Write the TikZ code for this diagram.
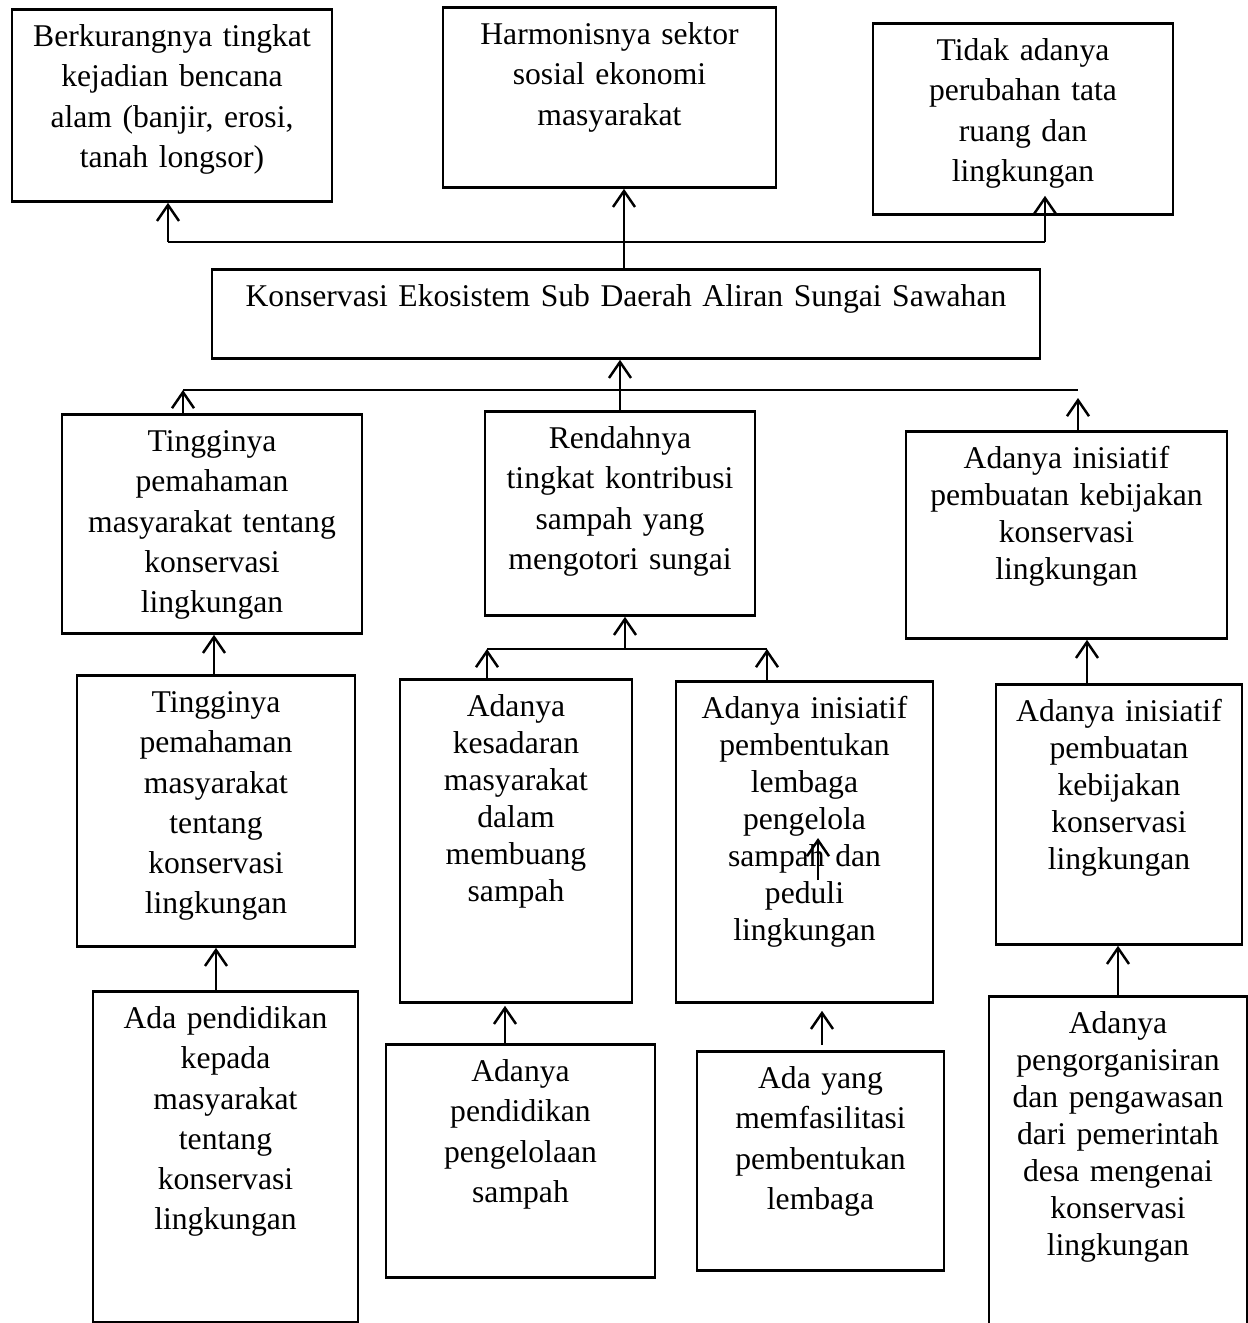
\documentclass[tikz,border=0pt]{standalone}
\usepackage{fontspec}
\setmainfont{Liberation Serif}
\usetikzlibrary{arrows.meta}

\begin{document}
\begin{tikzpicture}[
  kotak/.style = {draw, line width=1.6pt, anchor=north, align=center, inner xsep=0.1cm, inner ysep=0.25cm, text height=0.5cm, font=\fontsize{18pt}{22.8pt}\selectfont},
  rapat/.style = {font=\fontsize{18pt}{21pt}\selectfont},
  panah/.style = {-{Straight Barb[length=3.2mm,width=4.4mm]}, line width=1.4pt},
  garis/.style = {line width=0.8pt}
]
  \useasboundingbox (0,0) rectangle (24.96,-26.46);

  \node[kotak, text width=6.2cm, text depth=2.84cm] (dampak1) at (3.44,-0.16)
    {Berkurangnya tingkat\\kejadian bencana\\alam (banjir, erosi,\\tanah longsor)};
  \node[kotak, text width=6.46cm, text depth=2.6cm] (dampak2) at (12.19,-0.12)
    {Harmonisnya sektor\\sosial ekonomi\\masyarakat};
  \node[kotak, text width=5.8cm, text depth=2.82cm] (dampak3) at (20.46,-0.44)
    {Tidak adanya\\perubahan tata\\ruang dan\\lingkungan};

  \node[kotak, text width=16.36cm, text depth=0.78cm] (inti) at (12.52,-5.36)
    {Konservasi Ekosistem Sub Daerah Aliran Sungai Sawahan};

  \node[kotak, text width=5.8cm, text depth=3.38cm] (sebab1) at (4.24,-8.26)
    {Tingginya\\pemahaman\\masyarakat tentang\\konservasi\\lingkungan};
  \node[kotak, text width=5.2cm, text depth=3.08cm] (sebab2) at (12.4,-8.2)
    {Rendahnya\\tingkat kontribusi\\sampah yang\\mengotori sungai};
  \node[kotak, rapat, text width=6.22cm, text depth=3.14cm] (sebab3) at (21.33,-8.6)
    {Adanya inisiatif\\pembuatan kebijakan\\konservasi\\lingkungan};

  \node[kotak, text width=5.36cm, text depth=4.42cm] (akar1) at (4.32,-13.48)
    {Tingginya\\pemahaman\\masyarakat\\tentang\\konservasi\\lingkungan};
  \node[kotak, rapat, text width=4.44cm, text depth=5.46cm] (akar2) at (10.32,-13.56)
    {Adanya\\kesadaran\\masyarakat\\dalam\\membuang\\sampah};
  \node[kotak, rapat, text width=4.94cm, text depth=5.42cm] (akar3) at (16.09,-13.6)
    {Adanya inisiatif\\pembentukan\\lembaga\\pengelola\\sampah dan\\peduli\\lingkungan};
  \node[kotak, rapat, text width=4.72cm, text depth=4.2cm] (akar4) at (22.38,-13.66)
    {Adanya inisiatif\\pembuatan\\kebijakan\\konservasi\\lingkungan};

  \node[kotak, text width=5.1cm, text depth=5.62cm] (dasar1) at (4.51,-19.8)
    {Ada pendidikan\\kepada\\masyarakat\\tentang\\konservasi\\lingkungan};
  \node[kotak, text width=5.18cm, text depth=3.66cm] (dasar2) at (10.41,-20.86)
    {Adanya\\pendidikan\\pengelolaan\\sampah};
  \node[kotak, text width=4.74cm, text depth=3.38cm] (dasar3) at (16.41,-21.0)
    {Ada yang\\memfasilitasi\\pembentukan\\lembaga};
  \node[kotak, rapat, text width=4.96cm, text depth=5.8cm] (dasar4) at (22.36,-19.9)
    {Adanya\\pengorganisiran\\dan pengawasan\\dari pemerintah\\desa mengenai\\konservasi\\lingkungan};

  \coordinate (ka) at (3.36,-4.84);
  \coordinate (kb) at (20.9,-4.84);
  \draw[garis] (ka) -- (kb);
  \draw[panah] (ka) -- (ka |- dampak1.south);
  \draw[panah] (kb) -- ([yshift=0.4cm]kb |- dampak3.south);
  \draw[panah] ([xshift=-0.04cm]inti.north) -- ([xshift=-0.04cm]inti.north |- dampak2.south);

  \coordinate (kc) at (3.66,-7.8);
  \coordinate (kd) at (21.56,-7.8);
  \draw[garis] (kc) -- (kd);
  \draw[panah] (kc |- sebab1.north) -- (kc);
  \draw[panah] (kd |- sebab3.north) -- ([yshift=-0.16cm]kd);
  \draw[panah] (sebab2.north) -- (sebab2.north |- inti.south);

  \coordinate (ke) at (9.74,-12.98);
  \coordinate (kf) at (15.34,-12.98);
  \draw[garis] (ke) -- (kf);
  \draw[panah] (ke |- akar2.north) -- (ke);
  \draw[panah] (kf |- akar3.north) -- (kf);
  \draw[panah] ([xshift=0.1cm]sebab2.south |- ke) -- ([xshift=0.1cm]sebab2.south);
  \draw[panah] ([xshift=-0.04cm]akar1.north) -- ([xshift=-0.04cm]akar1.north |- sebab1.south);
  \draw[panah] ([xshift=0.41cm]sebab3.south |- akar4.north) -- ([xshift=0.41cm]sebab3.south);

  \coordinate (kg) at (16.36,-17.6);
  \draw[panah] (kg) -- ++(0,0.84);

  \draw[panah] (akar1.south |- dasar1.north) -- (akar1.south);
  \draw[panah, shorten >=0.04cm] ([xshift=-0.31cm]dasar2.north) -- ([xshift=-0.31cm]dasar2.north |- akar2.south);
  \draw[panah, shorten <=0.1cm, shorten >=0.14cm] ([xshift=0.03cm]dasar3.north) -- ([xshift=0.03cm]dasar3.north |- akar3.south);
  \draw[panah] (dasar4.north) -- (dasar4.north |- akar4.south);
\end{tikzpicture}
\end{document}
